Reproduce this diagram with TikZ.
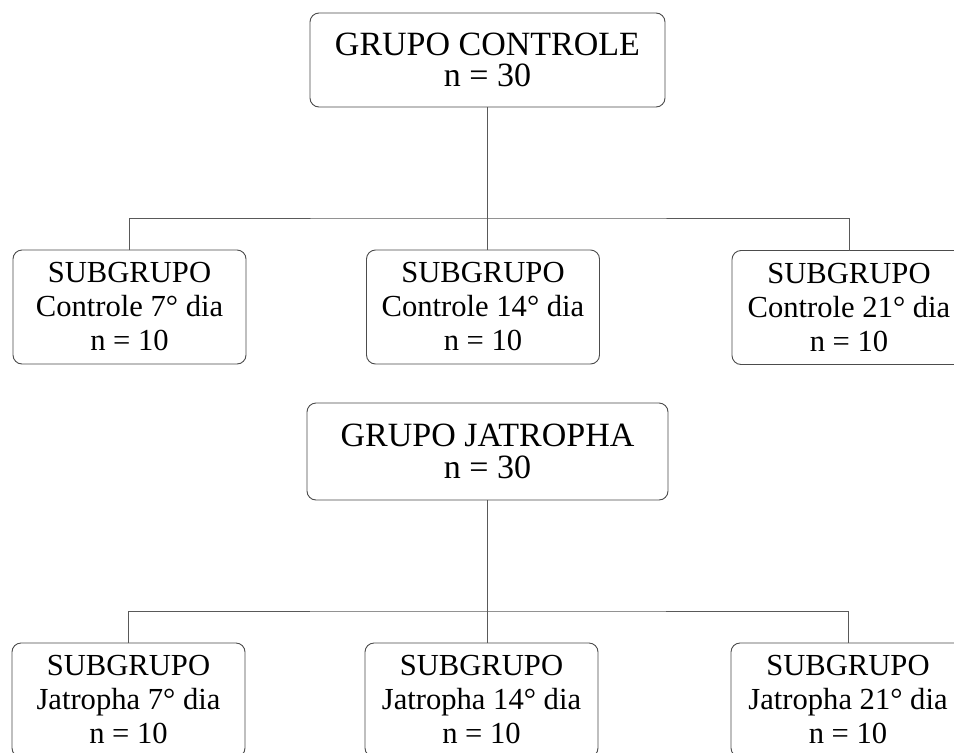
\documentclass[tikz,border=0pt]{standalone}
\usepackage{fontspec}
\setmainfont{Liberation Serif}
\begin{document}
\begin{tikzpicture}[x=1pt,y=-1pt,
  box/.style={draw=black!70, line width=0.9pt, rounded corners=9pt, align=center, inner sep=0pt, outer sep=0pt},
  bigbox/.style={box, font=\fontsize{34}{31.5}\selectfont},
  smallbox/.style={box, minimum width=233pt, minimum height=114pt, font=\fontsize{30.6}{34}\selectfont},
  link/.style={draw=black!65, line width=0.8pt}]
\useasboundingbox (0,0) rectangle (954,753);
\clip (0,0) rectangle (954,753);
\fill[white] (0,0) rectangle (954,753);

\node[bigbox, minimum width=355pt, minimum height=94pt] (ctl) at (487.5,60) {GRUPO CONTROLE\\n = 30};
\node[smallbox] (c7)  at (129.5,307) {SUBGRUPO\\Controle 7° dia\\n = 10};
\node[smallbox] (c14) at (483,307)   {SUBGRUPO\\Controle 14° dia\\n = 10};
\node[smallbox, minimum width=234pt] (c21) at (849,307.5) {SUBGRUPO\\Controle 21° dia\\n = 10};

\node[bigbox, minimum width=361pt, minimum height=97pt] (jat) at (487.5,451.5) {GRUPO JATROPHA\\n = 30};
\node[smallbox] (j7)  at (128.5,700) {SUBGRUPO\\Jatropha 7° dia\\n = 10};
\node[smallbox] (j14) at (481.5,700) {SUBGRUPO\\Jatropha 14° dia\\n = 10};
\node[smallbox, minimum width=234pt] (j21) at (848,700) {SUBGRUPO\\Jatropha 21° dia\\n = 10};

\coordinate (k1) at (487.5,218);
\coordinate (k2) at (487.5,611);

\draw[link] (ctl.south) -- (k1);
\draw[link] (k1) -- (c14.north -| k1);
\draw[link] (c7.north) |- (k1) -| (c21.north);

\draw[link] (jat.south) -- (k2);
\draw[link] (k2) -- (j14.north -| k2);
\draw[link] (j7.north) |- (k2) -| (j21.north);
\end{tikzpicture}
\end{document}
